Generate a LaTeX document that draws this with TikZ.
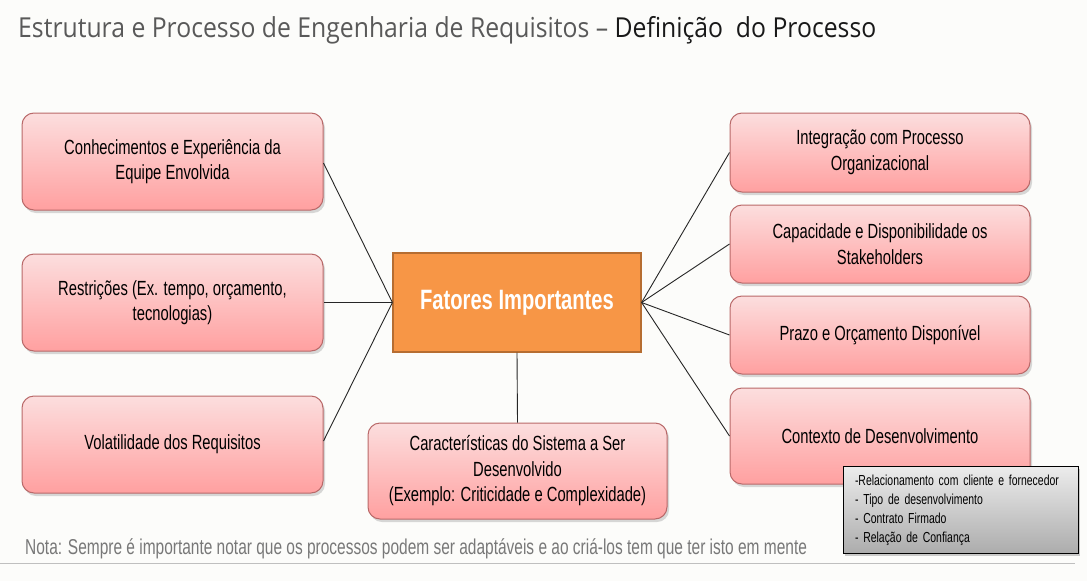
\documentclass[tikz,border=0pt]{standalone}
\usepackage{fontspec}
\setmainfont[FakeStretch=0.72]{Liberation Sans}
\newfontfamily\titlefont[FakeStretch=0.9]{Open Sans}
\usetikzlibrary{positioning, shadows}
\definecolor{pinktop}{RGB}{252, 222, 222}
\definecolor{pinkbot}{RGB}{255, 160, 160}
\definecolor{pinkline}{RGB}{185, 105, 105}
\definecolor{orange1}{RGB}{247, 150, 70}
\definecolor{orangeline}{RGB}{182, 109, 49}
\definecolor{bgcol}{RGB}{252, 252, 250}
\definecolor{notegray}{RGB}{120, 120, 120}
\tikzset{
  fator/.style={draw=pinkline, line width=1pt, rounded corners=12pt, top color=pinktop, bottom color=pinkbot,
    align=center, font=\fontsize{20.5}{25.5}\selectfont, drop shadow={opacity=0.3, shadow xshift=2pt, shadow yshift=-3pt}},
  centro/.style={draw=orangeline, line width=1.2pt, fill=orange1, text=white, minimum width=248pt, minimum height=99pt,
    font=\fontsize{28}{32}\selectfont\bfseries},
  detalhe/.style={draw=black, line width=0.8pt, top color=gray!15, bottom color=gray!65, align=left,
    inner xsep=12pt, inner ysep=4pt, font=\fontsize{14.5}{19}\selectfont, minimum width=235pt, minimum height=87pt,
    text width=211pt, drop shadow={opacity=0.4, shadow xshift=2pt, shadow yshift=-2pt}},
  liga/.style={draw=black!85, line width=0.9pt}
}

\begin{document}
\begin{tikzpicture}[x=1pt, y=-1pt]
  \fill[bgcol] (0,0) rectangle (1087,581);
  \useasboundingbox (0,0) rectangle (1087,581);

  \node[anchor=west, font=\titlefont\fontsize{27.5}{30}\selectfont, text=black!65, inner sep=0pt] (titulo) at (18,30)
    {Estrutura e Processo de Engenharia de Requisitos – \textcolor{black!90}{Definição\ \ do Processo}};

  % centro
  \node[centro] (fatores) at (517,302.5) {Fatores Importantes};

  % lado esquerdo
  \node[fator, minimum width=301pt, minimum height=97pt] (conhec) at (172.5,161.5) {Conhecimentos e Experiência da\\Equipe Envolvida};
  \node[fator, minimum width=301pt, minimum height=97pt] (restr) at (172.5,302.5) {Restrições (Ex. tempo, orçamento,\\tecnologias)};
  \node[fator, minimum width=301pt, minimum height=97pt] (volat) at (172.5,444.5) {Volatilidade dos Requisitos};

  % lado direito
  \node[fator, minimum width=300pt, minimum height=79pt] (integ) at (880,152.5) {Integração com Processo\\Organizacional};
  \node[fator, minimum width=300pt, minimum height=78pt] (capac) at (880,244) {Capacidade e Disponibilidade os\\Stakeholders};
  \node[fator, minimum width=300pt, minimum height=78pt] (prazo) at (880,335) {Prazo e Orçamento Disponível};
  \node[fator, minimum width=300pt, minimum height=96pt] (contexto) at (880,436) {Contexto de Desenvolvimento};

  % embaixo
  \node[fator, minimum width=299pt, minimum height=96pt] (caract) at (517.5,471)
    {Características do Sistema a Ser\\Desenvolvido\\(Exemplo: Criticidade e Complexidade)};

  \draw[liga] (fatores.west) -- (conhec.east |- 0,163);
  \draw[liga] (fatores.west) -- (restr.east);
  \draw[liga] (fatores.west) -- (volat.east |- 0,441);
  \draw[liga] (fatores.east) -- (integ.west);
  \draw[liga] (fatores.east) -- (capac.west);
  \draw[liga] (fatores.east) -- (prazo.west);
  \draw[liga] (fatores.east) -- (contexto.west);
  \draw[liga] (fatores.south) -- (caract.north);

  \node[detalhe] (relacao) at (960.5,510)
    {-Relacionamento com cliente e fornecedor\\- Tipo de desenvolvimento\\- Contrato Firmado\\- Relação de Confiança};

  \node[anchor=west, text=notegray, font=\fontsize{21.5}{24}\selectfont, inner sep=0pt] (nota) at (25,549)
    {Nota: Sempre é importante notar que os processos podem ser adaptáveis e ao criá-los tem que ter isto em mente};
  \draw[black!25, line width=1pt] (0,563) -- (1075,563);
\end{tikzpicture}
\end{document}
